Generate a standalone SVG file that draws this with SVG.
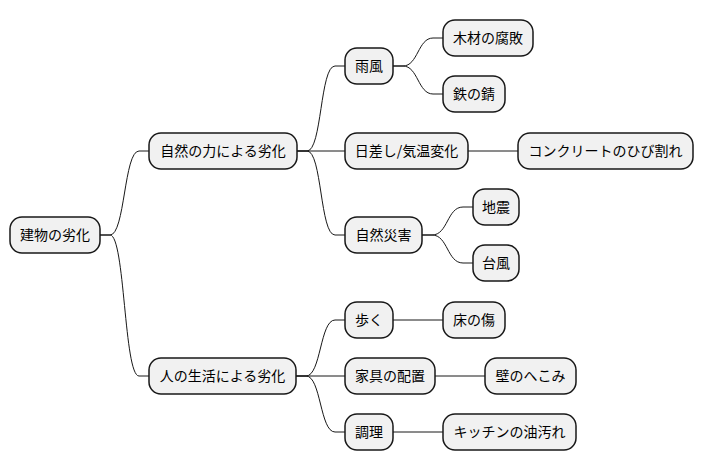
<svg xmlns="http://www.w3.org/2000/svg" width="703" height="471" viewBox="0 0 703 471">
<style>
.n rect{fill:#f1f1f1;stroke:#181818;stroke-width:1.5}
.n text{font-family:"Noto Sans CJK JP","Noto Sans",sans-serif;font-size:14px;fill:#000;text-anchor:middle}
.c path{fill:none;stroke:#181818;stroke-width:1}
</style>
<rect width="703" height="471" fill="#ffffff"/>
<g class="c">
<path d="M100,235 H110 C125,235 124,151 139,151 H149"/>
<path d="M100,235 H110 C125,235 124,376 139,376 H149"/>
<path d="M297,151 H307 C322,151 320,66 335,66 H345"/>
<path d="M297,151 H345"/>
<path d="M297,151 H307 C322,151 320,235 335,235 H345"/>
<path d="M393,66 H403 C418,66 418,38 433,38 H443"/>
<path d="M393,66 H403 C418,66 418,94 433,94 H443"/>
<path d="M468,151 H518"/>
<path d="M422,235 H432 C448,235 447,207 463,207 H473"/>
<path d="M422,235 H432 C448,235 447,263 463,263 H473"/>
<path d="M296,376 H306 C321,376 320,320 335,320 H345"/>
<path d="M296,376 H345"/>
<path d="M296,376 H306 C321,376 320,432 335,432 H345"/>
<path d="M393,320 H443"/>
<path d="M435,376 H485"/>
<path d="M393,432 H443"/>
</g>
<g id="root" class="n"><rect x="10" y="217" width="90" height="36" rx="12"/><text x="55" y="240">建物の劣化</text></g>
<g id="nature" class="n"><rect x="149" y="133" width="148" height="36" rx="12"/><text x="223" y="156">自然の力による劣化</text></g>
<g id="amekaze" class="n"><rect x="345" y="48" width="48" height="36" rx="12"/><text x="369" y="71">雨風</text></g>
<g id="mokuzai" class="n"><rect x="443" y="20" width="90" height="36" rx="12"/><text x="488" y="43">木材の腐敗</text></g>
<g id="tetsu" class="n"><rect x="443" y="76" width="62" height="36" rx="12"/><text x="474" y="99">鉄の錆</text></g>
<g id="hizashi" class="n"><rect x="345" y="133" width="123" height="36" rx="12"/><text x="406.5" y="156">日差し/気温変化</text></g>
<g id="concrete" class="n"><rect x="518" y="133" width="175" height="36" rx="12"/><text x="605.5" y="156">コンクリートのひび割れ</text></g>
<g id="saigai" class="n"><rect x="345" y="217" width="77" height="36" rx="12"/><text x="383.5" y="240">自然災害</text></g>
<g id="jishin" class="n"><rect x="473" y="189" width="46" height="36" rx="12"/><text x="496" y="212">地震</text></g>
<g id="taifu" class="n"><rect x="473" y="245" width="46" height="36" rx="12"/><text x="496" y="268">台風</text></g>
<g id="life" class="n"><rect x="149" y="358" width="147" height="36" rx="12"/><text x="222.5" y="381">人の生活による劣化</text></g>
<g id="aruku" class="n"><rect x="345" y="302" width="48" height="36" rx="12"/><text x="369" y="325">歩く</text></g>
<g id="yuka" class="n"><rect x="443" y="302" width="62" height="36" rx="12"/><text x="474" y="325">床の傷</text></g>
<g id="kagu" class="n"><rect x="345" y="358" width="90" height="36" rx="12"/><text x="390" y="381">家具の配置</text></g>
<g id="kabe" class="n"><rect x="485" y="358" width="91" height="36" rx="12"/><text x="530.5" y="381">壁のへこみ</text></g>
<g id="chori" class="n"><rect x="345" y="414" width="48" height="36" rx="12"/><text x="369" y="437">調理</text></g>
<g id="kitchen" class="n"><rect x="443" y="414" width="133" height="36" rx="12"/><text x="509.5" y="437">キッチンの油汚れ</text></g>
</svg>
